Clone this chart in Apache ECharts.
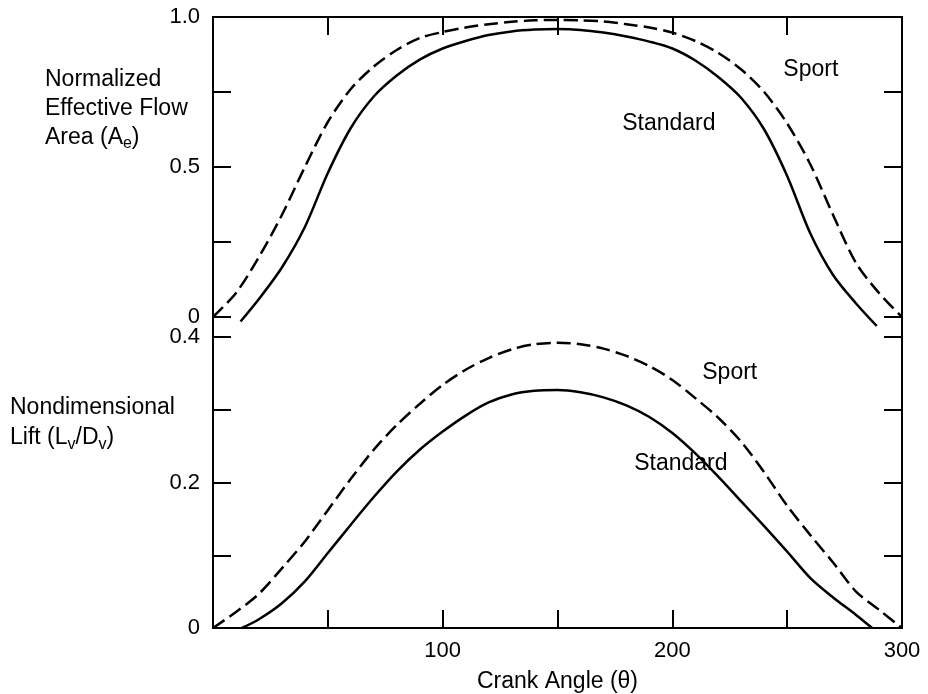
<!DOCTYPE html>
<html>
<head>
<meta charset="utf-8">
<script src="https://cdn.jsdelivr.net/npm/echarts@6/dist/echarts.min.js"></script>
<style>html,body{margin:0;padding:0;background:#fff}#c{width:928px;height:694px}</style>
</head>
<body>
<div id="c"></div>
<script>
// ---- data ----
var flowSportTheta = [0, 10, 20, 30, 40, 50, 60, 70, 80, 90, 100, 110, 120, 130, 140, 150, 160, 170, 180, 190, 200, 210, 220, 230, 240, 250, 260, 270, 280, 290, 300];
var flowSport      = [0, 0.08, 0.20, 0.34, 0.50, 0.65, 0.76, 0.835, 0.89, 0.93, 0.95, 0.965, 0.976, 0.984, 0.989, 0.99, 0.989, 0.985, 0.976, 0.965, 0.948, 0.92, 0.88, 0.825, 0.75, 0.645, 0.51, 0.34, 0.18, 0.08, 0];
var flowStdTheta   = [12, 20, 30, 40, 50, 60, 70, 80, 90, 100, 110, 120, 130, 140, 150, 160, 170, 180, 190, 200, 210, 220, 230, 240, 250, 260, 270, 280, 289];
var flowStd        = [-0.015, 0.06, 0.165, 0.30, 0.48, 0.63, 0.735, 0.805, 0.858, 0.895, 0.92, 0.94, 0.952, 0.958, 0.96, 0.957, 0.948, 0.935, 0.918, 0.895, 0.855, 0.80, 0.73, 0.625, 0.47, 0.28, 0.14, 0.045, -0.03];
var liftSportTheta = [0, 10, 20, 30, 40, 50, 60, 70, 80, 90, 100, 110, 120, 130, 140, 150, 160, 170, 180, 190, 200, 210, 220, 230, 240, 250, 260, 270, 280, 290, 300];
var liftSport      = [0, 0.022, 0.047, 0.082, 0.119, 0.162, 0.205, 0.245, 0.279, 0.308, 0.334, 0.355, 0.371, 0.383, 0.39, 0.392, 0.39, 0.384, 0.374, 0.36, 0.341, 0.316, 0.289, 0.256, 0.214, 0.168, 0.128, 0.09, 0.05, 0.025, 0];
var liftStdTheta   = [12.6, 20, 30, 40, 50, 60, 70, 80, 90, 100, 110, 120, 130, 140, 150, 160, 170, 180, 190, 200, 210, 220, 230, 240, 250, 260, 270, 280, 287];
var liftStd        = [0, 0.012, 0.034, 0.064, 0.103, 0.142, 0.18, 0.215, 0.245, 0.27, 0.292, 0.31, 0.321, 0.326, 0.327, 0.324, 0.317, 0.306, 0.29, 0.268, 0.24, 0.208, 0.174, 0.14, 0.105, 0.069, 0.042, 0.018, 0];
var xLabels    = [100, 200, 300];
var flowLabels = [0, 0.5, 1.0];
var liftLabels = [0, 0.2, 0.4];

function pairs(t, v) { return t.map(function (x, i) { return [x, v[i]]; }); }
function inList(list, v) { return list.some(function (a) { return Math.abs(a - v) < 1e-6; }); }
function fmtY(list) {
  return function (v) {
    if (!inList(list, v)) return '';
    return Math.abs(v) < 1e-9 ? '0' : (+v).toFixed(1);
  };
}

var FONT = '"Liberation Sans", Arial, Helvetica, sans-serif';
var black = '#000';
var tick = { show: true, inside: true, length: 18, lineStyle: { color: black, width: 2 } };
var noLine = { show: false, onZero: false };
var dash = [14, 6];
var annLabel = { show: true, position: 'inside', formatter: '{b}', fontSize: 23, color: black,
  fontFamily: FONT, textBorderWidth: 0, opacity: 1 };

var chart = echarts.init(document.getElementById('c'), null, { renderer: 'canvas' });
chart.setOption({
  animation: false,
  backgroundColor: '#fff',
  textStyle: { fontFamily: FONT, color: black },
  title: [
    {
      text: 'Normalized\nEffective Flow\nArea (A{sub|e})',
      left: 45, top: 65, padding: 0,
      textStyle: { fontFamily: FONT, fontSize: 23, fontWeight: 'normal', color: black, lineHeight: 29,
        rich: { sub: { fontFamily: FONT, fontSize: 16, color: black, lineHeight: 16, verticalAlign: 'bottom' } } }
    },
    {
      text: 'Nondimensional\nLift (L{sub|v}/D{sub|v})',
      left: 10, top: 393, padding: 0,
      textStyle: { fontFamily: FONT, fontSize: 23, fontWeight: 'normal', color: black, lineHeight: 30,
        rich: { sub: { fontFamily: FONT, fontSize: 16, color: black, lineHeight: 16, verticalAlign: 'bottom' } } }
    }
  ],
  grid: [
    { left: 213, right: 26, top: 17, bottom: 66, show: true, borderColor: black, borderWidth: 2, backgroundColor: 'transparent' },
    { left: 213, right: 26, top: 17, height: 300 },
    { left: 213, right: 26, top: 337, height: 291 }
  ],
  xAxis: [
    { gridIndex: 0, type: 'value', min: 0, max: 300, show: false },
    { gridIndex: 1, type: 'value', min: 0, max: 300, interval: 50, position: 'top',
      axisLine: noLine, axisTick: tick, axisLabel: { show: false }, splitLine: { show: false } },
    { gridIndex: 2, type: 'value', min: 0, max: 300, interval: 50, position: 'bottom',
      axisLine: noLine, axisTick: tick, splitLine: { show: false },
      axisLabel: { show: true, margin: 12, fontSize: 22, color: black, fontFamily: FONT,
        formatter: function (v) { return inList(xLabels, v) ? String(v) : ''; } },
      name: 'Crank Angle (\u03b8)', nameLocation: 'middle', nameGap: 42,
      nameTextStyle: { fontSize: 23, color: black, fontFamily: FONT } }
  ],
  yAxis: [
    { gridIndex: 0, type: 'value', min: 0, max: 1, show: false },
    { gridIndex: 1, type: 'value', min: 0, max: 1, interval: 0.25, position: 'left',
      axisLine: noLine, axisTick: tick, splitLine: { show: false },
      axisLabel: { margin: 13, fontSize: 22, color: black, fontFamily: FONT, formatter: fmtY(flowLabels) } },
    { gridIndex: 1, type: 'value', min: 0, max: 1, interval: 0.25, position: 'right',
      axisLine: noLine, axisTick: tick, splitLine: { show: false }, axisLabel: { show: false } },
    { gridIndex: 2, type: 'value', min: 0, max: 0.4, interval: 0.1, position: 'left',
      axisLine: noLine, axisTick: tick, splitLine: { show: false },
      axisLabel: { margin: 13, fontSize: 22, color: black, fontFamily: FONT, formatter: fmtY(liftLabels) } },
    { gridIndex: 2, type: 'value', min: 0, max: 0.4, interval: 0.1, position: 'right',
      axisLine: noLine, axisTick: tick, splitLine: { show: false }, axisLabel: { show: false } }
  ],
  series: [
    { name: 'Flow Sport', type: 'line', xAxisIndex: 1, yAxisIndex: 1, data: pairs(flowSportTheta, flowSport),
      smooth: 0.3, showSymbol: false, clip: false, lineStyle: { color: black, width: 2.5, type: dash } },
    { name: 'Flow Standard', type: 'line', xAxisIndex: 1, yAxisIndex: 1, data: pairs(flowStdTheta, flowStd),
      smooth: 0.3, showSymbol: false, clip: false, lineStyle: { color: black, width: 2.5 } },
    { name: 'Lift Sport', type: 'line', xAxisIndex: 2, yAxisIndex: 3, data: pairs(liftSportTheta, liftSport),
      smooth: 0.3, showSymbol: false, clip: false, lineStyle: { color: black, width: 2.5, type: dash } },
    { name: 'Lift Standard', type: 'line', xAxisIndex: 2, yAxisIndex: 3, data: pairs(liftStdTheta, liftStd),
      smooth: 0.3, showSymbol: false, clip: false, lineStyle: { color: black, width: 2.5 } },
    { type: 'scatter', xAxisIndex: 1, yAxisIndex: 1, symbolSize: 1, itemStyle: { color: 'transparent' },
      emphasis: { disabled: true }, silent: true,
      data: [{ value: [260.3, 0.826], name: 'Sport' }, { value: [198.5, 0.645], name: 'Standard' }],
      label: annLabel },
    { type: 'scatter', xAxisIndex: 2, yAxisIndex: 3, symbolSize: 1, itemStyle: { color: 'transparent' },
      emphasis: { disabled: true }, silent: true,
      data: [{ value: [225, 0.3505], name: 'Sport' }, { value: [203.7, 0.2254], name: 'Standard' }],
      label: annLabel }
  ]
});
</script>
</body>
</html>
